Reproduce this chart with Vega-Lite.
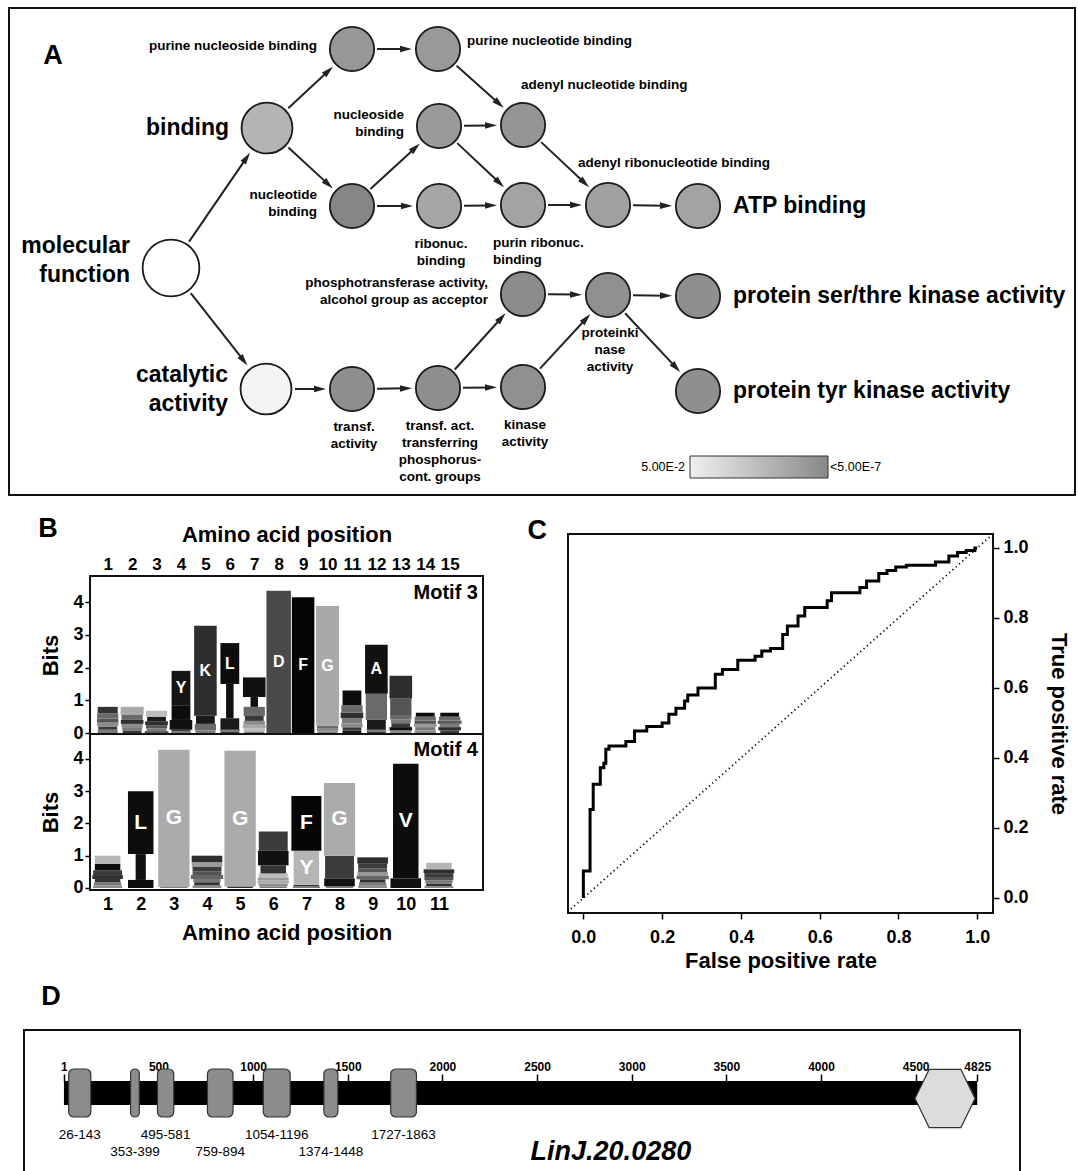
{
"$schema": "https://vega.github.io/schema/vega-lite/v6.json",
"background": "white",
"padding": {"left": 8, "top": 7, "right": 0, "bottom": 0},
"config": {
  "font": "Liberation Sans",
  "view": {"stroke": null},
  "axis": {"labelColor": "#000", "titleColor": "#000", "tickColor": "#000", "grid": false, "labelFont": "Liberation Sans", "titleFont": "Liberation Sans", "labelOverlap": false, "labelFlush": false},
  "text": {"font": "Liberation Sans", "color": "#000"}
},
"datasets": {
  "nodes": [
    {"id":"mf","term":"molecular\nfunction","x":170,"y":267,"depth":0,"nlp":0,"place":"left","highlight":true},
    {"id":"bind","term":"binding","x":266,"y":127,"depth":1,"nlp":4.18,"place":"left","highlight":true},
    {"id":"cat","term":"catalytic\nactivity","x":265,"y":388,"depth":1,"nlp":1.11,"place":"left","highlight":true},
    {"id":"pns","term":"purine nucleoside binding","x":351,"y":48,"depth":2,"nlp":5.58,"place":"left","highlight":false},
    {"id":"ntb","term":"nucleotide\nbinding","x":351,"y":205,"depth":2,"nlp":6.4,"place":"left","highlight":false},
    {"id":"pnt","term":"purine nucleotide binding","x":437,"y":48,"depth":3,"nlp":5.48,"place":"right","highlight":false},
    {"id":"nsb","term":"nucleoside\nbinding","x":438,"y":125,"depth":3,"nlp":5.43,"place":"left","highlight":false},
    {"id":"rnb","term":"ribonuc.\nbinding","x":438,"y":205,"depth":3,"nlp":4.86,"place":"below","highlight":false},
    {"id":"anb","term":"adenyl nucleotide binding","x":522,"y":124,"depth":4,"nlp":5.68,"place":"above","highlight":false},
    {"id":"prb","term":"purin ribonuc.\nbinding","x":522,"y":204,"depth":4,"nlp":5.0,"place":"belowstart","highlight":false},
    {"id":"arb","term":"adenyl ribonucleotide binding","x":607,"y":204,"depth":5,"nlp":5.15,"place":"aboveleft","highlight":false},
    {"id":"atp","term":"ATP binding","x":697,"y":205,"depth":6,"nlp":5.0,"place":"right","highlight":true},
    {"id":"tra","term":"transf.\nactivity","x":351,"y":388,"depth":2,"nlp":6.01,"place":"below","highlight":false},
    {"id":"tat","term":"transf. act.\ntransferring\nphosphorus-\ncont. groups","x":437,"y":387,"depth":3,"nlp":6.01,"place":"below","highlight":false},
    {"id":"pho","term":"phosphotransferase activity,\nalcohol group as acceptor","x":522,"y":293,"depth":4,"nlp":6.11,"place":"left","highlight":false},
    {"id":"kin","term":"kinase\nactivity","x":522,"y":386,"depth":4,"nlp":5.92,"place":"below","highlight":false},
    {"id":"pk","term":"proteinki\nnase\nactivity","x":607,"y":294,"depth":5,"nlp":5.92,"place":"below","highlight":false},
    {"id":"st","term":"protein ser/thre kinase activity","x":697,"y":295,"depth":6,"nlp":5.96,"place":"right","highlight":true},
    {"id":"ty","term":"protein tyr kinase activity","x":697,"y":390,"depth":6,"nlp":5.96,"place":"right","highlight":true}
  ],
  "edges": [
    {"source":"mf","target":"bind"},{"source":"mf","target":"cat"},
    {"source":"bind","target":"pns"},{"source":"bind","target":"ntb"},
    {"source":"pns","target":"pnt"},{"source":"pnt","target":"anb"},
    {"source":"ntb","target":"nsb"},{"source":"ntb","target":"rnb"},
    {"source":"nsb","target":"anb"},{"source":"nsb","target":"prb"},
    {"source":"rnb","target":"prb"},{"source":"anb","target":"arb"},
    {"source":"prb","target":"arb"},{"source":"arb","target":"atp"},
    {"source":"cat","target":"tra"},{"source":"tra","target":"tat"},
    {"source":"tat","target":"pho"},{"source":"tat","target":"kin"},
    {"source":"pho","target":"pk"},{"source":"kin","target":"pk"},
    {"source":"pk","target":"st"},{"source":"pk","target":"ty"}
  ],
  "legendEnds": [
    {"bound": "5.00E-2", "side": "low"},
    {"bound": "<5.00E-7", "side": "high"}
  ],
  "logoLabels": [
    {"label": "B", "kind": "panel"},
    {"label": "Motif 3", "kind": "m3"},
    {"label": "Motif 4", "kind": "m4"}
  ],
  "motif3": [
    {"pos":1,"letter":"E","bits":0.1},{"pos":1,"letter":"T","bits":0.1},{"pos":1,"letter":"N","bits":0.12},{"pos":1,"letter":"R","bits":0.12},{"pos":1,"letter":"S","bits":0.16},{"pos":1,"letter":"P","bits":0.2},
    {"pos":2,"letter":"T","bits":0.08},{"pos":2,"letter":"E","bits":0.1},{"pos":2,"letter":"N","bits":0.1},{"pos":2,"letter":"K","bits":0.12},{"pos":2,"letter":"S","bits":0.15},{"pos":2,"letter":"G","bits":0.25},
    {"pos":3,"letter":"M","bits":0.06},{"pos":3,"letter":"E","bits":0.08},{"pos":3,"letter":"R","bits":0.1},{"pos":3,"letter":"K","bits":0.12},{"pos":3,"letter":"V","bits":0.14},{"pos":3,"letter":"H","bits":0.18},
    {"pos":4,"letter":"E","bits":0.05},{"pos":4,"letter":"T","bits":0.05},{"pos":4,"letter":"A","bits":0.3},{"pos":4,"letter":"L","bits":0.45},{"pos":4,"letter":"Y","bits":1.05},
    {"pos":5,"letter":"E","bits":0.08},{"pos":5,"letter":"S","bits":0.2},{"pos":5,"letter":"V","bits":0.25},{"pos":5,"letter":"K","bits":2.75},
    {"pos":6,"letter":"T","bits":0.05},{"pos":6,"letter":"E","bits":0.05},{"pos":6,"letter":"V","bits":0.35},{"pos":6,"letter":"I","bits":1.05},{"pos":6,"letter":"L","bits":1.25},
    {"pos":7,"letter":"E","bits":0.05},{"pos":7,"letter":"C","bits":0.1},{"pos":7,"letter":"G","bits":0.1},{"pos":7,"letter":"N","bits":0.12},{"pos":7,"letter":"T","bits":0.15},{"pos":7,"letter":"S","bits":0.28},{"pos":7,"letter":"I","bits":0.3},{"pos":7,"letter":"A","bits":0.6},
    {"pos":8,"letter":"D","bits":4.35},
    {"pos":9,"letter":"F","bits":4.15},
    {"pos":10,"letter":"E","bits":0.05},{"pos":10,"letter":"N","bits":0.08},{"pos":10,"letter":"S","bits":0.1},{"pos":10,"letter":"G","bits":3.65},
    {"pos":11,"letter":"V","bits":0.08},{"pos":11,"letter":"T","bits":0.1},{"pos":11,"letter":"N","bits":0.12},{"pos":11,"letter":"E","bits":0.15},{"pos":11,"letter":"K","bits":0.18},{"pos":11,"letter":"S","bits":0.22},{"pos":11,"letter":"L","bits":0.45},
    {"pos":12,"letter":"T","bits":0.05},{"pos":12,"letter":"E","bits":0.05},{"pos":12,"letter":"V","bits":0.3},{"pos":12,"letter":"S","bits":0.8},{"pos":12,"letter":"A","bits":1.5},
    {"pos":13,"letter":"N","bits":0.08},{"pos":13,"letter":"A","bits":0.1},{"pos":13,"letter":"T","bits":0.12},{"pos":13,"letter":"E","bits":0.12},{"pos":13,"letter":"S","bits":0.13},{"pos":13,"letter":"R","bits":0.5},{"pos":13,"letter":"K","bits":0.7},
    {"pos":14,"letter":"N","bits":0.08},{"pos":14,"letter":"E","bits":0.1},{"pos":14,"letter":"Q","bits":0.1},{"pos":14,"letter":"R","bits":0.1},{"pos":14,"letter":"S","bits":0.12},{"pos":14,"letter":"L","bits":0.12},
    {"pos":15,"letter":"T","bits":0.08},{"pos":15,"letter":"K","bits":0.1},{"pos":15,"letter":"E","bits":0.1},{"pos":15,"letter":"M","bits":0.1},{"pos":15,"letter":"S","bits":0.12},{"pos":15,"letter":"L","bits":0.12}
  ],
  "motif4": [
    {"pos":1,"letter":"N","bits":0.08},{"pos":1,"letter":"E","bits":0.1},{"pos":1,"letter":"T","bits":0.1},{"pos":1,"letter":"K","bits":0.12},{"pos":1,"letter":"S","bits":0.15},{"pos":1,"letter":"L","bits":0.2},{"pos":1,"letter":"Y","bits":0.25},
    {"pos":2,"letter":"V","bits":0.25},{"pos":2,"letter":"I","bits":0.8},{"pos":2,"letter":"L","bits":1.95},
    {"pos":3,"letter":"E","bits":0.03},{"pos":3,"letter":"G","bits":4.25},
    {"pos":4,"letter":"N","bits":0.08},{"pos":4,"letter":"T","bits":0.1},{"pos":4,"letter":"E","bits":0.1},{"pos":4,"letter":"D","bits":0.12},{"pos":4,"letter":"R","bits":0.12},{"pos":4,"letter":"S","bits":0.13},{"pos":4,"letter":"Q","bits":0.15},{"pos":4,"letter":"K","bits":0.2},
    {"pos":5,"letter":"T","bits":0.05},{"pos":5,"letter":"G","bits":4.2},
    {"pos":6,"letter":"E","bits":0.05},{"pos":6,"letter":"N","bits":0.08},{"pos":6,"letter":"G","bits":0.1},{"pos":6,"letter":"Q","bits":0.1},{"pos":6,"letter":"C","bits":0.12},{"pos":6,"letter":"T","bits":0.25},{"pos":6,"letter":"A","bits":0.45},{"pos":6,"letter":"S","bits":0.6},
    {"pos":7,"letter":"E","bits":0.05},{"pos":7,"letter":"T","bits":0.05},{"pos":7,"letter":"Y","bits":1.05},{"pos":7,"letter":"F","bits":1.7},
    {"pos":8,"letter":"E","bits":0.05},{"pos":8,"letter":"A","bits":0.25},{"pos":8,"letter":"S","bits":0.7},{"pos":8,"letter":"G","bits":2.25},
    {"pos":9,"letter":"N","bits":0.07},{"pos":9,"letter":"E","bits":0.1},{"pos":9,"letter":"T","bits":0.1},{"pos":9,"letter":"D","bits":0.1},{"pos":9,"letter":"Q","bits":0.12},{"pos":9,"letter":"R","bits":0.12},{"pos":9,"letter":"S","bits":0.14},{"pos":9,"letter":"K","bits":0.2},
    {"pos":10,"letter":"A","bits":0.3},{"pos":10,"letter":"V","bits":3.55},
    {"pos":11,"letter":"N","bits":0.06},{"pos":11,"letter":"T","bits":0.08},{"pos":11,"letter":"E","bits":0.1},{"pos":11,"letter":"R","bits":0.1},{"pos":11,"letter":"S","bits":0.12},{"pos":11,"letter":"K","bits":0.12},{"pos":11,"letter":"Y","bits":0.2}
  ],
  "roc": [
    {"fpr":0,"tpr":0},{"fpr":0,"tpr":0.077},{"fpr":0.017,"tpr":0.253},{"fpr":0.025,"tpr":0.325},{"fpr":0.043,"tpr":0.372},{"fpr":0.052,"tpr":0.385},{"fpr":0.057,"tpr":0.425},{"fpr":0.065,"tpr":0.434},{"fpr":0.108,"tpr":0.447},{"fpr":0.13,"tpr":0.477},{"fpr":0.161,"tpr":0.49},{"fpr":0.2,"tpr":0.5},{"fpr":0.217,"tpr":0.525},{"fpr":0.235,"tpr":0.542},{"fpr":0.257,"tpr":0.563},{"fpr":0.265,"tpr":0.58},{"fpr":0.291,"tpr":0.6},{"fpr":0.335,"tpr":0.639},{"fpr":0.353,"tpr":0.653},{"fpr":0.392,"tpr":0.679},{"fpr":0.436,"tpr":0.691},{"fpr":0.453,"tpr":0.706},{"fpr":0.475,"tpr":0.713},{"fpr":0.506,"tpr":0.753},{"fpr":0.518,"tpr":0.777},{"fpr":0.545,"tpr":0.806},{"fpr":0.562,"tpr":0.83},{"fpr":0.619,"tpr":0.849},{"fpr":0.63,"tpr":0.872},{"fpr":0.702,"tpr":0.887},{"fpr":0.719,"tpr":0.906},{"fpr":0.75,"tpr":0.927},{"fpr":0.771,"tpr":0.936},{"fpr":0.793,"tpr":0.946},{"fpr":0.82,"tpr":0.951},{"fpr":0.894,"tpr":0.96},{"fpr":0.928,"tpr":0.977},{"fpr":0.95,"tpr":0.987},{"fpr":0.972,"tpr":0.993},{"fpr":0.994,"tpr":1.0},{"fpr":1.0,"tpr":1.0}
  ],
  "protein": [{"name":"LinJ.20.0280","start":1,"length":4825}],
  "domains": [
    {"start":26,"end":143},{"start":353,"end":399},{"start":495,"end":581},{"start":759,"end":894},{"start":1054,"end":1196},{"start":1374,"end":1448},{"start":1727,"end":1863}
  ],
  "features": [{"feature":"C-terminal domain","center":4655}]
},
"bounds": "flush",
"spacing": 39,
"resolve": {"scale": {"color": "independent", "size": "independent", "x": "independent", "y": "independent"}},
"vconcat": [
  {
    "width": 1066, "height": 487,
    "view": {"stroke": "#111", "strokeWidth": 2},
    "layer": [
      {
        "data": {"name": "edges"},
        "transform": [
          {"lookup": "source", "from": {"data": {"name": "nodes"}, "key": "id", "fields": ["x","y","depth"]}, "as": ["x1","y1","d1"]},
          {"lookup": "target", "from": {"data": {"name": "nodes"}, "key": "id", "fields": ["x","y","depth"]}, "as": ["x2","y2","d2"]},
          {"calculate": "datum.d1 == 0 ? 32 : datum.d1 == 1 ? 29 : 25", "as": "r1"},
          {"calculate": "datum.d2 == 0 ? 32 : datum.d2 == 1 ? 29 : 25", "as": "r2"},
          {"calculate": "sqrt(pow(datum.x2-datum.x1,2)+pow(datum.y2-datum.y1,2))", "as": "len"},
          {"calculate": "(datum.x2-datum.x1)/datum.len", "as": "ux"},
          {"calculate": "(datum.y2-datum.y1)/datum.len", "as": "uy"},
          {"calculate": "datum.x1 + datum.r1*datum.ux", "as": "sx"},
          {"calculate": "datum.y1 + datum.r1*datum.uy", "as": "sy"},
          {"calculate": "datum.x2 - (datum.r2+7)*datum.ux", "as": "ax"},
          {"calculate": "datum.y2 - (datum.r2+7)*datum.uy", "as": "ay"},
          {"calculate": "atan2(datum.ux, -datum.uy)*180/PI", "as": "ang"}
        ],
        "layer": [
          {"mark": {"type": "rule", "color": "#222", "strokeWidth": 2},
           "encoding": {
             "x": {"field": "sx", "type": "quantitative", "scale": {"domain": [8,1074], "nice": false, "zero": false}, "axis": null},
             "y": {"field": "sy", "type": "quantitative", "scale": {"domain": [7,494], "nice": false, "zero": false, "reverse": true}, "axis": null},
             "x2": {"field": "ax"}, "y2": {"field": "ay"}}},
          {"mark": {"type": "point", "shape": "M0,-1L0.55,1L-0.55,1Z", "filled": true, "opacity": 1, "color": "#222", "size": 144},
           "encoding": {
             "x": {"field": "ax", "type": "quantitative", "scale": {"domain": [8,1074], "nice": false, "zero": false}, "axis": null},
             "y": {"field": "ay", "type": "quantitative", "scale": {"domain": [7,494], "nice": false, "zero": false, "reverse": true}, "axis": null},
             "angle": {"field": "ang", "type": "quantitative", "scale": null}}}
        ]
      },
      {
        "data": {"name": "nodes"},
        "mark": {"type": "point", "shape": "circle", "filled": true, "opacity": 1, "stroke": "#1a1a1a", "strokeWidth": 1.8},
        "encoding": {
          "x": {"field": "x", "type": "quantitative", "scale": {"domain": [8,1074], "nice": false, "zero": false}, "axis": null},
          "y": {"field": "y", "type": "quantitative", "scale": {"domain": [7,494], "nice": false, "zero": false, "reverse": true}, "axis": null},
          "size": {"field": "depth", "type": "quantitative", "scale": {"domain": [0,2], "range": [3217,1963], "clamp": true}, "legend": null},
          "color": {"field": "nlp", "type": "quantitative",
            "scale": {"type": "linear", "domain": [1.3, 6.3], "range": ["#f0f0f0", "#888888"], "clamp": false, "interpolate": "rgb", "nice": false, "zero": false},
            "legend": {"orient": "none", "legendX": 681, "legendY": 448, "direction": "horizontal", "title": null,
              "gradientLength": 138, "gradientThickness": 22, "gradientStrokeColor": "#333", "gradientStrokeWidth": 1,
              "values": [1.3, 6.3], "labelExpr": "''", "labelOpacity": 0}}
        }
      },
      {
        "data": {"name": "legendEnds"},
        "transform": [{"filter": "datum.side == 'low'"}],
        "mark": {"type": "text", "align": "right", "baseline": "middle", "fontSize": 12.5},
        "encoding": {
          "x": {"datum": 684, "type": "quantitative", "scale": {"domain": [8,1074], "nice": false, "zero": false}, "axis": null},
          "y": {"datum": 466, "type": "quantitative", "scale": {"domain": [7,494], "nice": false, "zero": false, "reverse": true}, "axis": null},
          "text": {"field": "bound"}}
      },
      {
        "data": {"name": "legendEnds"},
        "transform": [{"filter": "datum.side == 'high'"}],
        "mark": {"type": "text", "align": "left", "baseline": "middle", "fontSize": 12.5},
        "encoding": {
          "x": {"datum": 829, "type": "quantitative", "scale": {"domain": [8,1074], "nice": false, "zero": false}, "axis": null},
          "y": {"datum": 466, "type": "quantitative", "scale": {"domain": [7,494], "nice": false, "zero": false, "reverse": true}, "axis": null},
          "text": {"field": "bound"}}
      },
      {
        "data": {"name": "nodes"},
        "transform": [{"filter": "datum.place == 'left' && datum.highlight"}, {"calculate": "datum.x - (datum.depth == 0 ? 32 : datum.depth == 1 ? 29 : 25) - 9", "as": "lx"}, {"calculate": "datum.y - (split(datum.term, '\\n').length - 1) * 29 / 2 - (datum.depth == 0 ? 8 : 0)", "as": "ly"}],
        "mark": {"type": "text", "align": "right", "baseline": "middle", "fontSize": 23, "fontWeight": "bold", "lineHeight": 29, "lineBreak": "\n"},
        "encoding": {
          "x": {"field": "lx", "type": "quantitative", "scale": {"domain": [8,1074], "nice": false, "zero": false}, "axis": null},
          "y": {"field": "ly", "type": "quantitative", "scale": {"domain": [7,494], "nice": false, "zero": false, "reverse": true}, "axis": null},
          "text": {"field": "term"}}
      },
      {
        "data": {"name": "nodes"},
        "transform": [{"filter": "datum.place == 'left' && !datum.highlight"}, {"calculate": "datum.x - (datum.depth == 0 ? 32 : datum.depth == 1 ? 29 : 25) - 10", "as": "lx"}, {"calculate": "datum.y - 3 - (split(datum.term, '\\n').length - 1) * 17 / 2", "as": "ly"}],
        "mark": {"type": "text", "align": "right", "baseline": "middle", "fontSize": 13.5, "fontWeight": "bold", "lineHeight": 17, "lineBreak": "\n"},
        "encoding": {
          "x": {"field": "lx", "type": "quantitative", "scale": {"domain": [8,1074], "nice": false, "zero": false}, "axis": null},
          "y": {"field": "ly", "type": "quantitative", "scale": {"domain": [7,494], "nice": false, "zero": false, "reverse": true}, "axis": null},
          "text": {"field": "term"}}
      },
      {
        "data": {"name": "nodes"},
        "transform": [{"filter": "datum.place == 'right' && datum.highlight"}, {"calculate": "datum.x + (datum.depth == 0 ? 32 : datum.depth == 1 ? 29 : 25) + 10", "as": "lx"}],
        "mark": {"type": "text", "align": "left", "baseline": "middle", "fontSize": 23, "fontWeight": "bold", "lineHeight": 29, "lineBreak": "\n"},
        "encoding": {
          "x": {"field": "lx", "type": "quantitative", "scale": {"domain": [8,1074], "nice": false, "zero": false}, "axis": null},
          "y": {"field": "y", "type": "quantitative", "scale": {"domain": [7,494], "nice": false, "zero": false, "reverse": true}, "axis": null},
          "text": {"field": "term"}}
      },
      {
        "data": {"name": "nodes"},
        "transform": [{"filter": "datum.place == 'right' && !datum.highlight"}, {"calculate": "datum.x + (datum.depth == 0 ? 32 : datum.depth == 1 ? 29 : 25) + 4", "as": "lx"}, {"calculate": "datum.y - 8", "as": "ly"}],
        "mark": {"type": "text", "align": "left", "baseline": "middle", "fontSize": 13.5, "fontWeight": "bold", "lineHeight": 17, "lineBreak": "\n"},
        "encoding": {
          "x": {"field": "lx", "type": "quantitative", "scale": {"domain": [8,1074], "nice": false, "zero": false}, "axis": null},
          "y": {"field": "ly", "type": "quantitative", "scale": {"domain": [7,494], "nice": false, "zero": false, "reverse": true}, "axis": null},
          "text": {"field": "term"}}
      },
      {
        "data": {"name": "nodes"},
        "transform": [{"filter": "datum.place == 'below'"}, {"calculate": "datum.x + 2", "as": "lx"}, {"calculate": "datum.y + (datum.depth == 0 ? 32 : datum.depth == 1 ? 29 : 25) + 6", "as": "ly"}],
        "mark": {"type": "text", "align": "center", "baseline": "top", "fontSize": 13.5, "fontWeight": "bold", "lineHeight": 17, "lineBreak": "\n"},
        "encoding": {
          "x": {"field": "lx", "type": "quantitative", "scale": {"domain": [8,1074], "nice": false, "zero": false}, "axis": null},
          "y": {"field": "ly", "type": "quantitative", "scale": {"domain": [7,494], "nice": false, "zero": false, "reverse": true}, "axis": null},
          "text": {"field": "term"}}
      },
      {
        "data": {"name": "nodes"},
        "transform": [{"filter": "datum.place == 'above'"}, {"calculate": "datum.x - 2", "as": "lx"}, {"calculate": "datum.y - 25 - 8", "as": "ly"}],
        "mark": {"type": "text", "align": "left", "baseline": "bottom", "fontSize": 13.5, "fontWeight": "bold", "lineHeight": 17, "lineBreak": "\n"},
        "encoding": {
          "x": {"field": "lx", "type": "quantitative", "scale": {"domain": [8,1074], "nice": false, "zero": false}, "axis": null},
          "y": {"field": "ly", "type": "quantitative", "scale": {"domain": [7,494], "nice": false, "zero": false, "reverse": true}, "axis": null},
          "text": {"field": "term"}}
      },
      {
        "data": {"name": "nodes"},
        "transform": [{"filter": "datum.place == 'aboveleft'"}, {"calculate": "datum.x - 30", "as": "lx"}, {"calculate": "datum.y - 25 - 10", "as": "ly"}],
        "mark": {"type": "text", "align": "left", "baseline": "bottom", "fontSize": 13.5, "fontWeight": "bold", "lineHeight": 17, "lineBreak": "\n"},
        "encoding": {
          "x": {"field": "lx", "type": "quantitative", "scale": {"domain": [8,1074], "nice": false, "zero": false}, "axis": null},
          "y": {"field": "ly", "type": "quantitative", "scale": {"domain": [7,494], "nice": false, "zero": false, "reverse": true}, "axis": null},
          "text": {"field": "term"}}
      },
      {
        "data": {"name": "nodes"},
        "transform": [{"filter": "datum.place == 'belowstart'"}, {"calculate": "datum.x - 25 - 5", "as": "lx"}, {"calculate": "datum.y + 25 + 6", "as": "ly"}],
        "mark": {"type": "text", "align": "left", "baseline": "top", "fontSize": 13.5, "fontWeight": "bold", "lineHeight": 17, "lineBreak": "\n"},
        "encoding": {
          "x": {"field": "lx", "type": "quantitative", "scale": {"domain": [8,1074], "nice": false, "zero": false}, "axis": null},
          "y": {"field": "ly", "type": "quantitative", "scale": {"domain": [7,494], "nice": false, "zero": false, "reverse": true}, "axis": null},
          "text": {"field": "term"}}
      },
      {
        "data": {"values": [{"panel": "A"}]},
        "mark": {"type": "text", "align": "center", "baseline": "middle", "fontSize": 27, "fontWeight": "bold"},
        "encoding": {
          "x": {"datum": 52, "type": "quantitative", "scale": {"domain": [8,1074], "nice": false, "zero": false}, "axis": null},
          "y": {"datum": 55, "type": "quantitative", "scale": {"domain": [7,494], "nice": false, "zero": false, "reverse": true}, "axis": null},
          "text": {"field": "panel"}}
      }
    ]
  },
  {
    "bounds": "flush",
    "spacing": 496,
    "resolve": {"scale": {"color": "independent", "size": "independent", "x": "independent", "y": "independent"}},
    "vconcat": [
      {
        "bounds": "flush",
        "spacing": 559,
        "resolve": {"scale": {"color": "independent", "size": "independent", "x": "independent", "y": "independent"}},
        "hconcat": [
          {
            "bounds": "flush",
            "spacing": 0,
            "resolve": {"scale": {"color": "independent", "size": "independent", "x": "independent", "y": "independent"}},
            "hconcat": [
              {"width": 81, "height": 10, "data": {"values": []}, "mark": {"type": "point"}, "encoding": {}},
              {
                "bounds": "flush",
                "spacing": 0,
                "resolve": {"scale": {"color": "independent", "size": "independent", "x": "independent", "y": "independent"}},
                "vconcat": [
                  {
                    "width": 393, "height": 42,
                    "data": {"name": "logoLabels"},
                    "layer": [
                      {"transform": [{"filter": "datum.kind == 'panel'"}],
                       "mark": {"type": "text", "align": "center", "baseline": "middle", "fontSize": 27, "fontWeight": "bold"},
                       "encoding": {"x": {"datum": -1.2, "type": "quantitative", "scale": {"domain": [0.48,16.16], "nice": false, "zero": false}, "axis": null}, "y": {"datum": 6.27, "type": "quantitative", "scale": {"domain": [4.83,6.114], "nice": false, "zero": false}, "axis": null}, "text": {"field": "label"}}},
                      {"transform": [{"filter": "datum.kind == 'm3'"}],
                       "mark": {"type": "text", "align": "right", "baseline": "alphabetic", "fontSize": 20, "fontWeight": "bold"},
                       "encoding": {"x": {"datum": 15.96, "type": "quantitative", "scale": {"domain": [0.48,16.16], "nice": false, "zero": false}, "axis": null}, "y": {"datum": 4.13, "type": "quantitative", "scale": {"domain": [4.83,6.114], "nice": false, "zero": false}, "axis": null}, "text": {"field": "label"}}},
                      {"transform": [{"filter": "datum.kind == 'm4'"}],
                       "mark": {"type": "text", "align": "right", "baseline": "alphabetic", "fontSize": 20, "fontWeight": "bold"},
                       "encoding": {"x": {"datum": 15.96, "type": "quantitative", "scale": {"domain": [0.48,16.16], "nice": false, "zero": false}, "axis": null}, "y": {"datum": -0.67, "type": "quantitative", "scale": {"domain": [4.83,6.114], "nice": false, "zero": false}, "axis": null}, "text": {"field": "label"}}}
                    ]
                  },
                  {
                    "width": 393, "height": 158,
                    "view": {"stroke": "#111", "strokeWidth": 2},
                    "data": {"name": "motif3"},
                    "transform": [{"stack": "bits", "groupby": ["pos"], "sort": [{"field": "bits", "order": "ascending"}], "as": ["lo","hi"]}, {"calculate": "(datum.lo + datum.hi)/2", "as": "mid"}],
                    "encoding": {
                      "x": {"field": "pos", "type": "quantitative", "scale": {"domain": [0.48,16.16], "nice": false, "zero": false},
                            "axis": {"orient": "top", "values": [1,2,3,4,5,6,7,8,9,10,11,12,13,14,15], "format": "d", "labelOverlap": false, "ticks": false, "domain": false, "labelFontSize": 17, "labelFontWeight": "bold", "labelPadding": 3, "title": "Amino acid position", "titleFontSize": 22, "titleFontWeight": "bold", "titlePadding": 9}}
                    },
                    "resolve": {"axis": {"y": "independent"}},
                    "layer": [
                      {"mark": {"type": "bar", "orient": "vertical"},
                       "encoding": {
                         "y": {"field": "lo", "type": "quantitative", "scale": {"domain": [-0.03,4.8], "nice": false, "zero": false},
                               "axis": {"values": [0,1,2,3,4], "format": "d", "labelOverlap": false, "tickSize": 5, "tickWidth": 1.5, "domain": false, "labelFontSize": 18, "labelFontWeight": "bold", "labelPadding": 2, "title": "Bits", "titleFontSize": 22, "titleFontWeight": "bold", "titlePadding": 10}},
                         "y2": {"field": "hi"},
                         "color": {"field": "letter", "type": "nominal", "scale": {"domain": ["A","C","D","E","F","G","H","I","K","L","M","N","P","Q","R","S","T","V","Y"], "range": ["#111111","#bdbdbd","#4a4a4a","#7a7a7a","#050505","#a9a9a9","#bdbdbd","#111111","#2e2e2e","#0d0d0d","#5a5a5a","#8c8c8c","#333333","#9a9a9a","#555555","#6a6a6a","#3a3a3a","#1a1a1a","#151515"]}, "legend": null},
                         "size": {"field": "letter", "type": "nominal", "scale": {"type": "ordinal", "domain": ["A","C","D","E","F","G","H","I","K","L","M","N","P","Q","R","S","T","V","Y"], "range": [22.6,21.3,24.5,20,22.5,23,21.3,7.5,22.6,18.8,23.8,21.3,20,22.6,21.3,21.3,18.8,18.8,18.8]}, "legend": null}
                       }},
                      {"transform": [{"filter": "datum.bits >= 0.9 && datum.letter != 'I'"}],
                       "mark": {"type": "text", "color": "white", "fontSize": 16, "fontWeight": "bold", "align": "center", "baseline": "middle"},
                       "encoding": {
                         "y": {"field": "mid", "type": "quantitative", "scale": {"domain": [-0.03,4.8], "nice": false, "zero": false}, "axis": null},
                         "text": {"field": "letter"}}}
                    ]
                  },
                  {
                    "width": 393, "height": 156,
                    "view": {"stroke": "#111", "strokeWidth": 2},
                    "data": {"name": "motif4"},
                    "transform": [{"stack": "bits", "groupby": ["pos"], "sort": [{"field": "bits", "order": "ascending"}], "as": ["lo","hi"]}, {"calculate": "(datum.lo + datum.hi)/2", "as": "mid"}],
                    "encoding": {
                      "x": {"field": "pos", "type": "quantitative", "scale": {"domain": [0.62,12.18], "nice": false, "zero": false},
                            "axis": {"orient": "bottom", "values": [1,2,3,4,5,6,7,8,9,10,11], "format": "d", "labelOverlap": false, "ticks": false, "domain": false, "labelFontSize": 18, "labelFontWeight": "bold", "labelPadding": 5, "title": "Amino acid position", "titleFontSize": 22, "titleFontWeight": "bold", "titlePadding": 9}}
                    },
                    "resolve": {"axis": {"y": "independent"}},
                    "layer": [
                      {"mark": {"type": "bar", "orient": "vertical"},
                       "encoding": {
                         "y": {"field": "lo", "type": "quantitative", "scale": {"domain": [-0.062,4.77], "nice": false, "zero": false},
                               "axis": {"values": [0,1,2,3,4], "format": "d", "labelOverlap": false, "tickSize": 5, "tickWidth": 1.5, "domain": false, "labelFontSize": 18, "labelFontWeight": "bold", "labelPadding": 2, "title": "Bits", "titleFontSize": 22, "titleFontWeight": "bold", "titlePadding": 10}},
                         "y2": {"field": "hi"},
                         "color": {"field": "letter", "type": "nominal", "scale": {"domain": ["A","C","D","E","F","G","H","I","K","L","M","N","P","Q","R","S","T","V","Y"], "range": ["#111111","#bdbdbd","#666666","#7a7a7a","#050505","#ababab","#bdbdbd","#111111","#2e2e2e","#0d0d0d","#5a5a5a","#8c8c8c","#333333","#9a9a9a","#555555","#3c3c3c","#333333","#0d0d0d","#b5b5b5"]}, "legend": null},
                         "size": {"field": "letter", "type": "nominal", "scale": {"type": "ordinal", "domain": ["A","C","D","E","F","G","H","I","K","L","M","N","P","Q","R","S","T","V","Y"], "range": [30.6,28.9,32.3,27.2,30,31.3,28.9,10.2,30.6,25.5,32.3,28.9,27.2,30.6,28.9,28.9,25.5,25.5,25.5]}, "legend": null}
                       }},
                      {"transform": [{"filter": "datum.bits >= 0.9 && datum.letter != 'I'"}],
                       "mark": {"type": "text", "color": "white", "fontSize": 21, "fontWeight": "bold", "align": "center", "baseline": "middle"},
                       "encoding": {
                         "y": {"field": "mid", "type": "quantitative", "scale": {"domain": [-0.062,4.77], "nice": false, "zero": false}, "axis": null},
                         "text": {"field": "letter"}}}
                    ]
                  }
                ]
              }
            ]
          },
          {
            "width": 425, "height": 379,
            "view": {"stroke": "#111", "strokeWidth": 2},
            "layer": [
              {
                "data": {"name": "roc"},
                "mark": {"type": "line", "interpolate": "step-after", "color": "#000", "strokeWidth": 3},
                "encoding": {
                  "x": {"field": "fpr", "type": "quantitative", "scale": {"domain": [-0.039,1.04], "nice": false, "zero": false},
                        "axis": {"values": [0,0.2,0.4,0.6,0.8,1], "format": ".1f", "labelOverlap": false, "domain": false, "tickSize": 6, "tickWidth": 1.5, "labelFontSize": 18, "labelFontWeight": "bold", "labelPadding": 9, "title": "False positive rate", "titleFontSize": 22, "titleFontWeight": "bold", "titlePadding": 4}},
                  "y": {"field": "tpr", "type": "quantitative", "scale": {"domain": [-0.043,1.04], "nice": false, "zero": false},
                        "axis": {"orient": "right", "values": [0,0.2,0.4,0.6,0.8,1], "format": ".1f", "labelOverlap": false, "domain": false, "tickSize": 6, "tickWidth": 1.5, "labelFontSize": 18, "labelFontWeight": "bold", "labelPadding": 4, "title": "True positive rate", "titleFontSize": 22, "titleFontWeight": "bold", "titlePadding": 18}},
                  "order": [{"field": "fpr", "type": "quantitative"}, {"field": "tpr", "type": "quantitative"}]
                }
              },
              {
                "data": {"values": [{"reference": "chance"}]},
                "mark": {"type": "rule", "strokeDash": [1.2, 3.2], "strokeWidth": 1.8, "color": "#000"},
                "encoding": {"x": {"datum": -0.04, "type": "quantitative"}, "y": {"datum": -0.04, "type": "quantitative"}, "x2": {"datum": 1.04}, "y2": {"datum": 1.04}}
              },
              {
                "data": {"values": [{"panel": "C"}]},
                "mark": {"type": "text", "align": "center", "baseline": "middle", "fontSize": 27, "fontWeight": "bold"},
                "encoding": {"x": {"datum": -0.117, "type": "quantitative"}, "y": {"datum": 1.05, "type": "quantitative"}, "text": {"field": "panel"}}
              }
            ]
          }
        ]
      },
      {
        "bounds": "flush",
        "spacing": 0,
        "hconcat": [
          {"width": 15, "height": 10, "data": {"values": []}, "mark": {"type": "point"}, "encoding": {}},
          {
            "width": 996, "height": 150,
            "view": {"stroke": "#111", "strokeWidth": 2},
            "layer": [
              {
                "data": {"name": "protein"},
                "mark": {"type": "rect", "color": "#000"},
                "encoding": {
                  "x": {"field": "start", "type": "quantitative", "scale": {"domain": [-210,5051], "nice": false, "zero": false},
                        "axis": {"orient": "top", "offset": -51, "values": [1,500,1000,1500,2000,2500,3000,3500,4000,4500,4825], "format": "d", "labelOverlap": false, "domain": false, "tickSize": 7, "tickWidth": 1.5, "labelFontSize": 12, "labelFontWeight": "bold", "labelPadding": 1, "title": null}},
                  "x2": {"field": "length"},
                  "y": {"datum": 1.2, "type": "quantitative", "scale": {"domain": [-8.7,6.3], "nice": false, "zero": false}, "axis": null},
                  "y2": {"datum": -1.2}
                }
              },
              {
                "data": {"name": "domains"},
                "mark": {"type": "rect", "fill": "#8c8c8c", "stroke": "#333", "strokeWidth": 1.2, "cornerRadius": 5},
                "encoding": {
                  "x": {"field": "start", "type": "quantitative"},
                  "x2": {"field": "end"},
                  "y": {"datum": 2.4, "type": "quantitative"},
                  "y2": {"datum": -2.4}
                }
              },
              {
                "data": {"name": "features"},
                "mark": {"type": "point", "shape": "M-1,0L-0.53,-0.97L0.53,-0.97L1,0L0.53,0.97L-0.53,0.97Z", "filled": true, "fill": "#dcdcdc", "stroke": "#333", "strokeWidth": 1.2, "size": 3600, "opacity": 1},
                "encoding": {"x": {"field": "center", "type": "quantitative"}, "y": {"datum": -0.55, "type": "quantitative"}}
              },
              {
                "data": {"name": "domains"},
                "transform": [{"window": [{"op": "row_number", "as": "idx"}], "sort": [{"field": "start"}]}, {"filter": "datum.idx % 2 == 1"}, {"calculate": "(datum.start + datum.end) / 2", "as": "mid"}, {"calculate": "datum.start + '-' + datum.end", "as": "label"}],
                "mark": {"type": "text", "align": "center", "baseline": "middle", "fontSize": 13.5},
                "encoding": {"x": {"field": "mid", "type": "quantitative"}, "y": {"datum": -4.2, "type": "quantitative"}, "text": {"field": "label"}}
              },
              {
                "data": {"name": "domains"},
                "transform": [{"window": [{"op": "row_number", "as": "idx"}], "sort": [{"field": "start"}]}, {"filter": "datum.idx % 2 == 0"}, {"calculate": "(datum.start + datum.end) / 2", "as": "mid"}, {"calculate": "datum.start + '-' + datum.end", "as": "label"}],
                "mark": {"type": "text", "align": "center", "baseline": "middle", "fontSize": 13.5},
                "encoding": {"x": {"field": "mid", "type": "quantitative"}, "y": {"datum": -5.9, "type": "quantitative"}, "text": {"field": "label"}}
              },
              {
                "data": {"name": "protein"},
                "mark": {"type": "text", "align": "center", "baseline": "middle", "fontSize": 27, "fontWeight": "bold", "fontStyle": "italic"},
                "encoding": {"x": {"datum": 2890, "type": "quantitative"}, "y": {"datum": -5.9, "type": "quantitative"}, "text": {"field": "name"}}
              },
              {
                "data": {"values": [{"panel": "D"}]},
                "mark": {"type": "text", "align": "center", "baseline": "middle", "fontSize": 27, "fontWeight": "bold"},
                "encoding": {"x": {"datum": -68, "type": "quantitative"}, "y": {"datum": 9.6, "type": "quantitative"}, "text": {"field": "panel"}}
              }
            ]
          }
        ]
      }
    ]
  }
]
}
